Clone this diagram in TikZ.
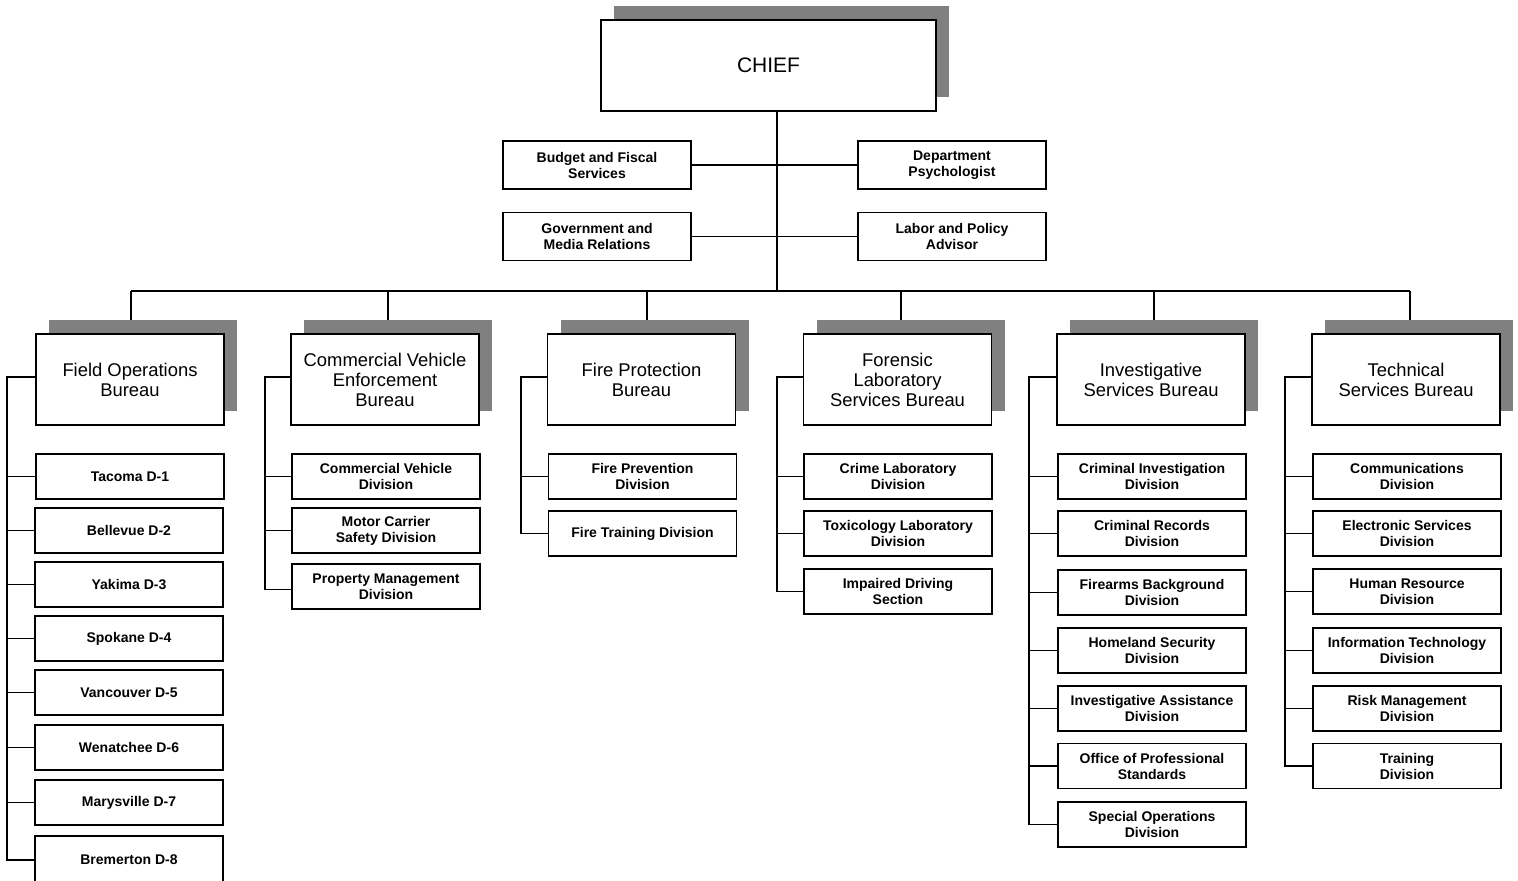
\documentclass[tikz,border=0pt]{standalone}
\usepackage{fontspec}
\setmainfont{Liberation Sans}
\usetikzlibrary{shadows,backgrounds}
\tikzset{
  base/.style={draw=black, line width=0.8pt, fill=white, inner sep=0pt, align=center, text=black},
  chiefbox/.style={base, minimum width=167.5pt, minimum height=45.5pt, font=\fontsize{10.5}{12}\selectfont,
     general shadow={fill=gray, shadow xshift=6.5pt, shadow yshift=7pt}},
  bureau/.style={base, minimum width=94pt, minimum height=45.5pt, font=\fontsize{9.2}{10}\selectfont,
     general shadow={fill=gray, shadow xshift=6.5pt, shadow yshift=7pt}},
  unit/.style={base, minimum width=94pt, minimum height=22.5pt, font=\fontsize{7}{8}\selectfont\bfseries},
  staff/.style={unit, minimum height=24pt},
  conn/.style={draw=black, line width=0.8pt}
}
\begin{document}
\begin{tikzpicture}[x=0.5pt,y=-0.5pt]
\useasboundingbox (0,0) rectangle (1518,880);
% chief and staff
\node[chiefbox] (chief) at (768.5,65.5) {CHIEF};
\node[staff] (bud) at (597,165) {Budget and Fiscal\\Services};
\node[staff] (psy) at (952,165) {Department\\Psychologist};
\node[staff] (gov) at (597,236.5) {Government and\\Media Relations};
\node[staff] (lab) at (952,236.5) {Labor and Policy\\Advisor};
% bureaus
\node[bureau] (fob) at (130,379.5) {Field Operations\\Bureau};
\node[bureau] (cvb) at (385,379.5) {Commercial Vehicle\\Enforcement\\Bureau};
\node[bureau] (fpb) at (641.5,379.5) {Fire Protection\\Bureau};
\node[bureau] (flb) at (897.5,379.5) {Forensic\\Laboratory\\Services Bureau};
\node[bureau] (isb) at (1151,379.5) {Investigative\\Services Bureau};
\node[bureau] (tsb) at (1406,379.5) {Technical\\Services Bureau};
% field operations
\node[unit] (f1) at (130,476.5) {Tacoma D-1};
\node[unit] (f2) at (129,530.5) {Bellevue D-2};
\node[unit] (f3) at (129,584.5) {Yakima D-3};
\node[unit] (f4) at (129,638.5) {Spokane D-4};
\node[unit] (f5) at (129,692.5) {Vancouver D-5};
\node[unit] (f6) at (129,747.5) {Wenatchee D-6};
\node[unit] (f7) at (129,802.5) {Marysville D-7};
\node[unit, minimum height=24pt] (f8) at (129,860) {Bremerton D-8};
% commercial vehicle
\node[unit] (c1) at (386,476.5) {Commercial Vehicle\\Division};
\node[unit] (c2) at (386,530.5) {Motor Carrier\\Safety Division};
\node[unit] (c3) at (386,586.5) {Property Management\\Division};
% fire
\node[unit] (p1) at (642.5,476.5) {Fire Prevention\\Division};
\node[unit] (p2) at (642.5,533.5) {Fire Training Division};
% forensic
\node[unit] (l1) at (898,476.5) {Crime Laboratory\\Division};
\node[unit] (l2) at (898,533.5) {Toxicology Laboratory\\Division};
\node[unit] (l3) at (898,591.5) {Impaired Driving\\Section};
% investigative
\node[unit] (i1) at (1152,476.5) {Criminal Investigation\\Division};
\node[unit] (i2) at (1152,533.5) {Criminal Records\\Division};
\node[unit] (i3) at (1152,592.5) {Firearms Background\\Division};
\node[unit] (i4) at (1152,650.5) {Homeland Security\\Division};
\node[unit] (i5) at (1152,708.5) {Investigative Assistance\\Division};
\node[unit] (i6) at (1152,766) {Office of Professional\\Standards};
\node[unit] (i7) at (1152,824.5) {Special Operations\\Division};
% technical
\node[unit] (t1) at (1407,476.5) {Communications\\Division};
\node[unit] (t2) at (1407,533.5) {Electronic Services\\Division};
\node[unit] (t3) at (1407,591.5) {Human Resource\\Division};
\node[unit] (t4) at (1407,650.5) {Information Technology\\Division};
\node[unit] (t5) at (1407,708.5) {Risk Management\\Division};
\node[unit] (t6) at (1407,766) {Training\\Division};
% coordinates
\coordinate (cb) at (777,291);
\coordinate (d1) at (131,291);
\coordinate (d2) at (388,291);
\coordinate (d3) at (647,291);
\coordinate (d4) at (901,291);
\coordinate (d5) at (1154,291);
\coordinate (d6) at (1410,291);
\coordinate (sf) at (7,377);
\coordinate (sc) at (265,377);
\coordinate (sp) at (521,377);
\coordinate (sl) at (777,377);
\coordinate (si) at (1029,377);
\coordinate (st) at (1285,377);
\begin{scope}[on background layer]
\draw[conn] (chief.south -| cb) -- (cb);
\draw[conn] (bud.east) -- (psy.west);
\draw[conn] (gov.east) -- (lab.west);
\draw[conn] (d1) -- (d6);
\draw[conn] (d1) -- (d1 |- fob.north);
\draw[conn] (d2) -- (d2 |- cvb.north);
\draw[conn] (d3) -- (d3 |- fpb.north);
\draw[conn] (d4) -- (d4 |- flb.north);
\draw[conn] (d5) -- (d5 |- isb.north);
\draw[conn] (d6) -- (d6 |- tsb.north);
% field
\draw[conn] (fob.west |- sf) -- (sf) |- (f8.west);
\foreach \n in {f1,f2,f3,f4,f5,f6,f7} \draw[conn] (sf |- \n.west) -- (\n.west);
% cve
\draw[conn] (cvb.west |- sc) -- (sc) |- ([yshift=-1.5pt]c3.west);
\foreach \n in {c1,c2} \draw[conn] (sc |- \n.west) -- (\n.west);
% fire
\draw[conn] (fpb.west |- sp) -- (sp) |- (p2.west);
\draw[conn] (sp |- p1.west) -- (p1.west);
% forensic
\draw[conn] (flb.west |- sl) -- (sl) |- (l3.west);
\foreach \n in {l1,l2} \draw[conn] (sl |- \n.west) -- (\n.west);
% investigative
\draw[conn] (isb.west |- si) -- (si) |- (i7.west);
\foreach \n in {i1,i2,i3,i4,i5,i6} \draw[conn] (si |- \n.west) -- (\n.west);
% technical
\draw[conn] (tsb.west |- st) -- (st) |- (t6.west);
\foreach \n in {t1,t2,t3,t4,t5} \draw[conn] (st |- \n.west) -- (\n.west);
\end{scope}
\end{tikzpicture}
\end{document}
